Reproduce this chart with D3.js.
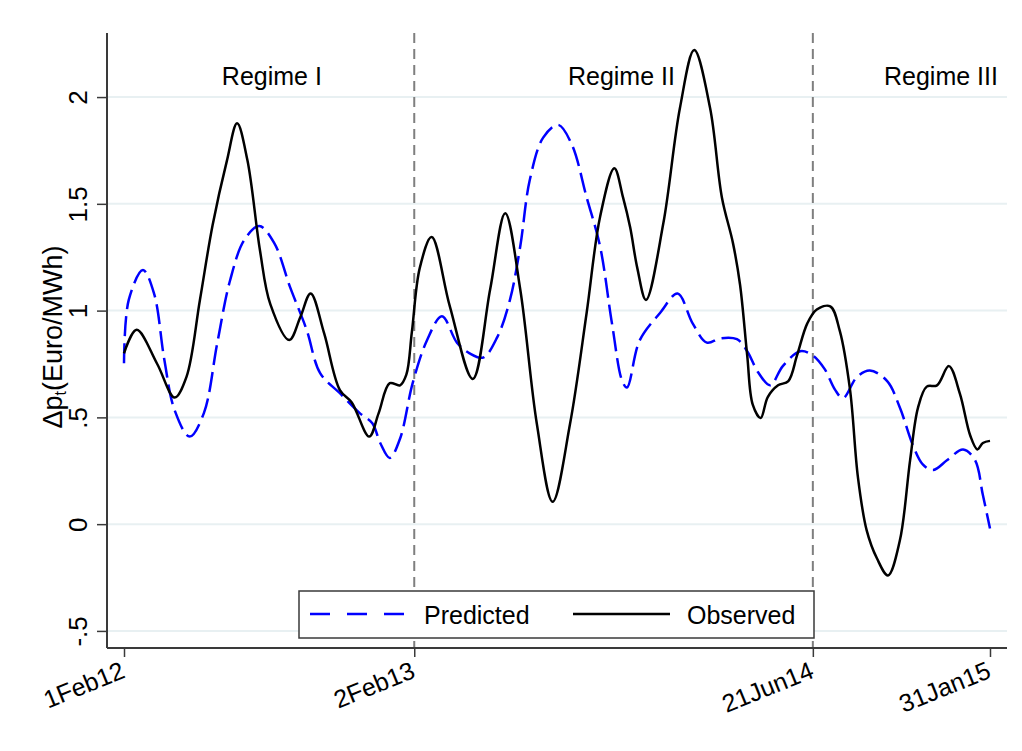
<!DOCTYPE html>
<html>
<head>
<meta charset="utf-8">
<script src="https://cdn.jsdelivr.net/npm/d3@7"></script>
<style>
  html, body { margin: 0; padding: 0; background: #fff; }
  svg { display: block; font-family: "Liberation Sans", Arial, sans-serif; }
</style>
</head>
<body>
<svg id="chart" width="1022" height="751"></svg>
<script>
// Observed price change (solid black)
const obsDates = [
  "2012-02-01","2012-02-17","2012-03-14","2012-04-05","2012-04-20","2012-05-07","2012-05-23",
  "2012-06-10","2012-06-23","2012-07-06","2012-07-22","2012-08-04","2012-08-28","2012-09-11",
  "2012-09-24","2012-10-11","2012-10-31","2012-11-15","2012-12-07","2012-12-19","2013-01-02",
  "2013-01-15","2013-01-23","2013-01-30","2013-02-09","2013-02-24","2013-03-19","2013-04-17",
  "2013-05-09","2013-05-28","2013-06-16","2013-07-07","2013-07-27","2013-08-18","2013-09-08",
  "2013-09-25","2013-10-13","2013-10-24","2013-11-02","2013-11-11","2013-11-22","2013-12-14",
  "2014-01-04","2014-01-22",
  "2014-02-11","2014-02-26","2014-03-12","2014-03-21","2014-03-30","2014-04-06","2014-04-16",
  "2014-04-25","2014-05-08","2014-05-21","2014-06-01","2014-06-14","2014-06-26","2014-07-13",
  "2014-07-25","2014-08-07","2014-08-17","2014-08-28","2014-09-10","2014-09-24","2014-10-09",
  "2014-10-22","2014-11-01","2014-11-12","2014-11-25","2014-12-10","2014-12-24","2015-01-06",
  "2015-01-15","2015-01-22","2015-01-31"
];
const obsValues = [
  0.80, 0.91, 0.75, 0.593, 0.69, 1.05, 1.40,
  1.70, 1.877, 1.705, 1.28, 1.03, 0.862, 0.97,
  1.08, 0.894, 0.628, 0.57, 0.41, 0.52, 0.66,
  0.65, 0.70, 0.90, 1.20, 1.345, 1.02, 0.68,
  1.10, 1.456, 1.10, 0.47, 0.105, 0.47, 0.99,
  1.44, 1.667, 1.53, 1.39, 1.20, 1.05, 1.41,
  1.95, 2.22,
  1.95, 1.53, 1.316, 1.12, 0.79, 0.56, 0.497,
  0.595, 0.65, 0.67, 0.79, 0.94, 1.005, 1.02,
  0.906, 0.63, 0.22, -0.028, -0.16, -0.24, -0.077,
  0.30, 0.546, 0.644, 0.65, 0.74, 0.61, 0.415,
  0.35, 0.38, 0.39
];

// Model prediction (dashed blue)
const predDates = [
  "2012-02-01","2012-02-07","2012-02-25","2012-03-10","2012-03-23","2012-04-05","2012-04-24",
  "2012-05-12","2012-05-29","2012-06-14","2012-07-02","2012-07-21","2012-08-09","2012-08-29",
  "2012-09-19","2012-10-06","2012-10-31","2012-11-25","2012-12-11","2012-12-21","2013-01-02",
  "2013-01-15","2013-01-31","2013-02-18","2013-03-09","2013-03-28","2013-04-13","2013-04-30",
  "2013-05-18","2013-06-03","2013-06-16","2013-06-28","2013-07-15","2013-08-03","2013-08-20",
  "2013-09-08","2013-09-25","2013-10-10","2013-10-23","2013-10-29","2013-11-14","2013-12-10",
  "2014-01-01","2014-01-20","2014-02-07","2014-02-24","2014-03-17","2014-03-30","2014-04-13",
  "2014-04-28","2014-05-14","2014-06-05","2014-06-21","2014-07-06","2014-07-19","2014-07-29",
  "2014-08-16","2014-09-01","2014-09-23","2014-10-09","2014-10-26","2014-11-07","2014-11-20",
  "2014-12-08","2014-12-28","2015-01-12","2015-01-22","2015-01-31"
];
const predValues = [
  0.754, 1.05, 1.19, 1.08, 0.77, 0.534, 0.41,
  0.52, 0.85, 1.14, 1.33, 1.396, 1.316, 1.11,
  0.909, 0.707, 0.613, 0.52, 0.473, 0.38, 0.31,
  0.40, 0.66, 0.86, 0.974, 0.85, 0.80, 0.78,
  0.876, 1.05, 1.30, 1.61, 1.81, 1.87, 1.78,
  1.53, 1.30, 0.94, 0.67, 0.64, 0.86, 0.99,
  1.08, 0.94, 0.85, 0.87, 0.866, 0.81, 0.71,
  0.65, 0.74, 0.81, 0.79, 0.726, 0.63, 0.59,
  0.69, 0.72, 0.67, 0.546, 0.365, 0.28, 0.253,
  0.30, 0.35, 0.30, 0.136, -0.02
];

// Axis ticks, regime breaks and regime labels
const xTickDates = ["2012-02-01", "2013-02-02", "2014-06-21", "2015-01-31"];
const xTickLabels = ["1Feb12", "2Feb13", "21Jun14", "31Jan15"];
const yTickValues = [-0.5, 0, 0.5, 1, 1.5, 2];
const yTickLabels = ["-.5", "0", ".5", "1", "1.5", "2"];
const breakDates = ["2013-02-02", "2014-06-21"];
const regimeLabels = ["Regime I", "Regime II", "Regime III"];
const regimeLabelDates = ["2012-08-06", "2013-10-22", "2014-11-30"];
const seriesNames = ["Predicted", "Observed"];

const parse = d3.utcParse("%Y-%m-%d");
const observed = obsDates.map((d, i) => ({ date: parse(d), value: obsValues[i] }));
const predicted = predDates.map((d, i) => ({ date: parse(d), value: predValues[i] }));

const svg = d3.select("#chart");
const plotLeft = 107, plotRight = 1007, plotTop = 33, plotBottom = 648;

const x = d3.scaleUtc()
  .domain([new Date(Date.UTC(2012, 0, 10, 12)), new Date(Date.UTC(2015, 1, 21, 12))])
  .range([plotLeft, plotRight]);
const y = d3.scaleLinear().domain([-0.58, 2.30]).range([plotBottom, plotTop]);

const fontSize = 25;
const tickFontSize = 26;
const axisColor = "#3a3a3a";

// horizontal grid
svg.append("g").selectAll("line").data(yTickValues).join("line")
  .attr("x1", plotLeft).attr("x2", plotRight)
  .attr("y1", d => y(d)).attr("y2", d => y(d))
  .attr("stroke", "#e8f0f2").attr("stroke-width", 2);

// regime breaks
svg.append("g").selectAll("line").data(breakDates).join("line")
  .attr("x1", d => x(parse(d))).attr("x2", d => x(parse(d)))
  .attr("y1", plotTop).attr("y2", plotBottom)
  .attr("stroke", "#7f7f7f").attr("stroke-width", 2)
  .attr("stroke-dasharray", "10,6");

// regime labels
svg.append("g").selectAll("text").data(regimeLabels).join("text")
  .attr("x", (d, i) => x(parse(regimeLabelDates[i])))
  .attr("y", 85)
  .attr("text-anchor", "middle")
  .attr("font-size", fontSize)
  .attr("fill", "#000")
  .text(d => d);

// series lines
const line = d3.line().x(d => x(d.date)).y(d => y(d.value)).curve(d3.curveCatmullRom.alpha(0.5));

svg.append("path").datum(predicted)
  .attr("d", line).attr("fill", "none")
  .attr("stroke", "#0000ff").attr("stroke-width", 2.5)
  .attr("stroke-dasharray", "20,7");

svg.append("path").datum(observed)
  .attr("d", line).attr("fill", "none")
  .attr("stroke", "#000").attr("stroke-width", 2.5);

// y axis
const yAxis = svg.append("g")
  .attr("transform", `translate(${plotLeft},0)`)
  .call(d3.axisLeft(y).tickValues(yTickValues).tickSize(10).tickSizeOuter(0)
    .tickFormat((d, i) => yTickLabels[i]));
yAxis.select(".domain").attr("d", `M0,${plotTop}V${plotBottom}`).attr("stroke", axisColor).attr("stroke-width", 2);
yAxis.selectAll(".tick line").attr("stroke", axisColor).attr("stroke-width", 1.5);
yAxis.selectAll(".tick text")
  .attr("x", null).attr("dy", null)
  .attr("transform", "translate(-20,0) rotate(-90)")
  .attr("text-anchor", "middle")
  .attr("font-size", tickFontSize)
  .attr("font-family", "Liberation Sans, Arial, sans-serif")
  .attr("fill", "#000");

// x axis
const xAxis = svg.append("g")
  .attr("transform", `translate(0,${plotBottom})`)
  .call(d3.axisBottom(x).tickValues(xTickDates.map(parse)).tickSize(9).tickSizeOuter(0)
    .tickFormat((d, i) => xTickLabels[i]));
xAxis.select(".domain").attr("d", `M${plotLeft},0H${plotRight}`).attr("stroke", axisColor).attr("stroke-width", 2);
xAxis.selectAll(".tick line").attr("stroke", axisColor).attr("stroke-width", 1.5);
xAxis.selectAll(".tick text")
  .attr("y", null).attr("dy", null)
  .attr("transform", "translate(2,29) rotate(-22)")
  .attr("text-anchor", "end")
  .attr("font-size", fontSize)
  .attr("font-family", "Liberation Sans, Arial, sans-serif")
  .attr("fill", "#000");

// y axis title
const yTitle = svg.append("text")
  .attr("transform", "translate(62,337) rotate(-90)")
  .attr("text-anchor", "middle")
  .attr("font-size", 27)
  .attr("fill", "#000");
yTitle.append("tspan").text("Δp");
yTitle.append("tspan").attr("font-size", 16).attr("dy", 4).text("t");
yTitle.append("tspan").attr("dy", -4).text("(Euro/MWh)");

// legend
const legend = svg.append("g");
legend.append("rect")
  .attr("x", 299).attr("y", 591).attr("width", 515).attr("height", 47)
  .attr("fill", "#fff").attr("stroke", axisColor).attr("stroke-width", 1.5);
legend.append("line")
  .attr("x1", 310).attr("x2", 408).attr("y1", 614).attr("y2", 614)
  .attr("stroke", "#0000ff").attr("stroke-width", 2.5).attr("stroke-dasharray", "20,17");
legend.append("text").attr("x", 424).attr("y", 624).attr("font-size", fontSize).text(seriesNames[0]);
legend.append("line")
  .attr("x1", 573).attr("x2", 670).attr("y1", 614).attr("y2", 614)
  .attr("stroke", "#000").attr("stroke-width", 2.5);
legend.append("text").attr("x", 687).attr("y", 624).attr("font-size", fontSize).text(seriesNames[1]);
</script>
</body>
</html>
